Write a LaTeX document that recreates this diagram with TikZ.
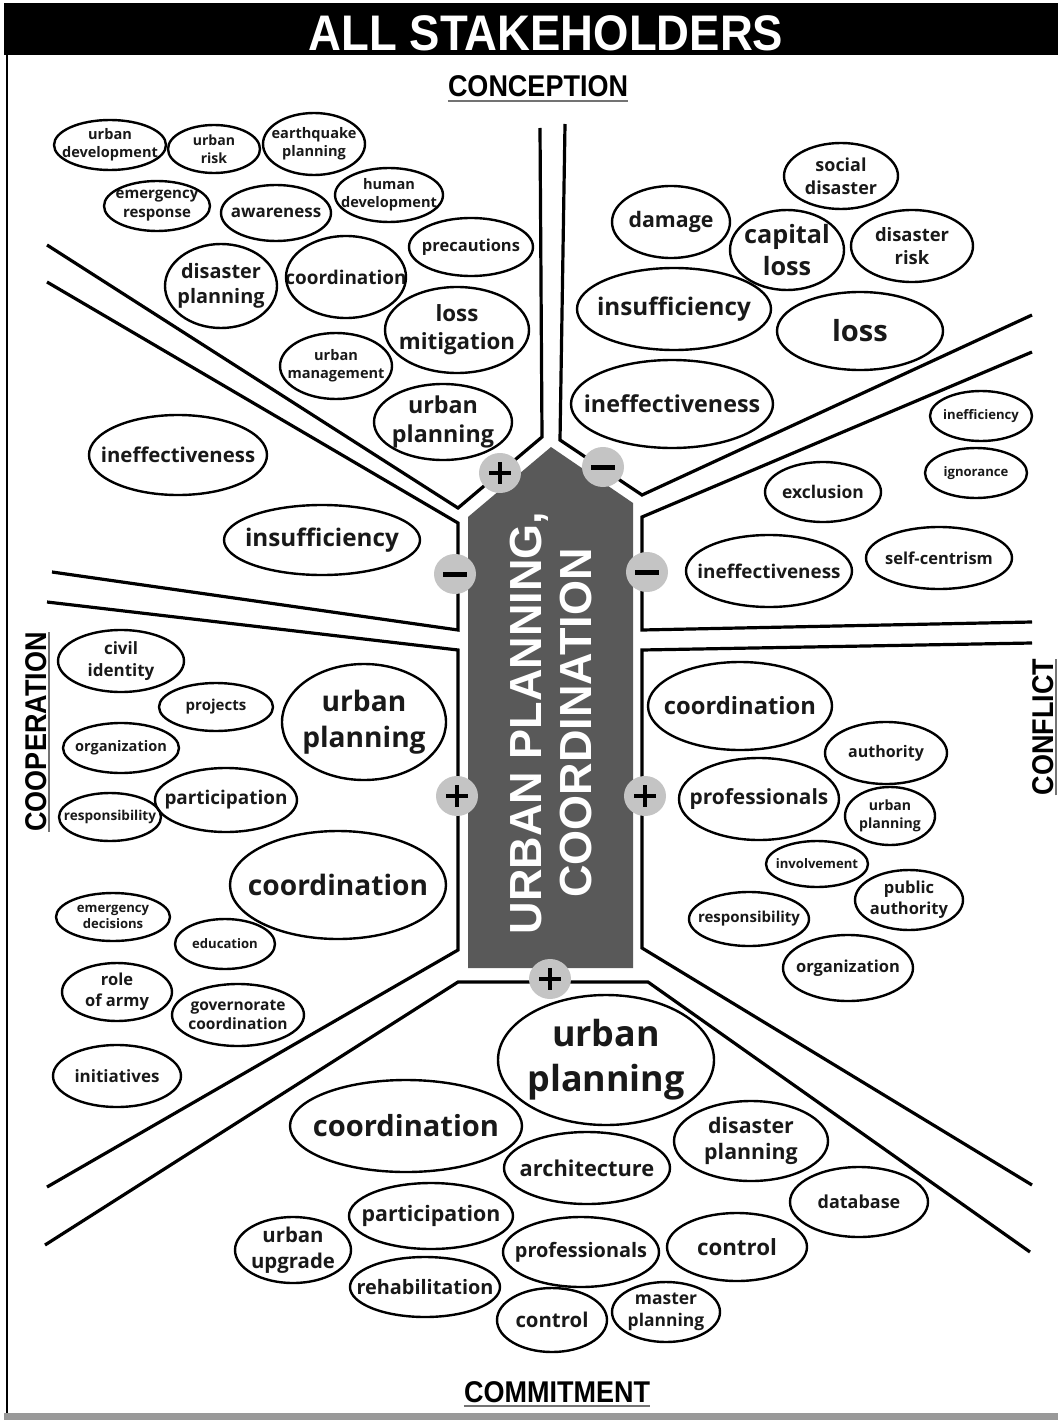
\documentclass[tikz,border=0pt]{standalone}
\usepackage{fontspec}
\setmainfont{Liberation Sans}
\IfFontExistsTF{Open Sans SemiBold}
  {\newfontfamily\bubfont{Open Sans SemiBold}}
  {\newfontfamily\bubfontbase{Open Sans}\newcommand\bubfont{\bubfontbase\bfseries}}
\usetikzlibrary{shapes.geometric}
\definecolor{panel}{HTML}{595959}
\definecolor{signgrey}{HTML}{C4C4C4}
% font size in px with a proportional line spacing
\newcommand\bsz[1]{\fontsize{\fpeval{0.97*#1}}{\fpeval{1.22*#1}}\selectfont}
% one keyword bubble: name, x, y, width, height, font size, text
\newcommand\bub[7]{%
  \node[bubtext, font=\bubfont\bsz{#6}] (#1) at (#2,#3) {#7};
  \draw[bubline] (#1.center) ellipse [x radius=#4/2, y radius=#5/2];}
\begin{document}
\begin{tikzpicture}[x=1pt,y=-1pt,
  sep/.style={line width=3.2pt, line join=miter},
  bubtext/.style={inner sep=0pt, align=center, text=black!90},
  bubline/.style={draw=black, line width=2.4pt},
  sign/.style={ellipse, fill=signgrey, minimum width=42pt, minimum height=40pt, inner sep=0pt},
  glyph/.style={line width=4pt, draw=black},
  head/.style={font=\bfseries\fontsize{30}{34}\selectfont, anchor=base, inner sep=0pt},
  uline/.style={line width=2pt, draw=black!55},
]
\useasboundingbox (0,0) rectangle (1058,1420);
\fill[white] (0,0) rectangle (1058,1420);

% frame: title bar, left rule, bottom strip
\fill[black] (4,3) rectangle (1058,55);
\draw[line width=2.6pt] (7,55) -- (7,1414);
\fill[black!40] (4,1413) rectangle (1058,1420);
\node[anchor=base, text=white, font=\bfseries\fontsize{50}{56}\selectfont, inner sep=0pt] (title) at (546,51) {\scalebox{0.91}[1]{ALL STAKEHOLDERS}};

% sector boundaries
\draw[sep] (540,128) -- (542,437) -- (458,508) -- (47,245);
\draw[sep] (47,282) -- (458,523) -- (458,630) -- (52,572);
\draw[sep] (47,602) -- (458,650) -- (458,950) -- (47,1187);
\draw[sep] (45,1245) -- (458,982) -- (648,982) -- (1030,1252);
\draw[sep] (1032,643) -- (642,650) -- (642,948) -- (1032,1185);
\draw[sep] (1032,352) -- (642,517) -- (642,630) -- (1032,622);
\draw[sep] (565,124) -- (560,440) -- (642,495) -- (1032,315);

% central arrow
\fill[panel] (468,968) -- (468,517) -- (551,447) -- (633,503) -- (633,968) -- cycle;
\node[rotate=90, text=white, align=center, font=\bfseries\fontsize{45}{50}\selectfont] (core) at (551,723) {URBAN PLANNING,\\COORDINATION};

% polarity markers
\node[sign] (s1) at (500,473) {};
\node[sign] (s2) at (603,467) {};
\node[sign] (s3) at (455,574) {};
\node[sign] (s4) at (647,572) {};
\node[sign] (s5) at (457,796) {};
\node[sign] (s6) at (645,796) {};
\node[sign] (s7) at (550,979) {};
\draw[glyph] (s1.center) ++(-11,0) -- ++(22,0) (s1.center) ++(0,-11) -- ++(0,22);
\draw[glyph] (s5.center) ++(-11,0) -- ++(22,0) (s5.center) ++(0,-11) -- ++(0,22);
\draw[glyph] (s6.center) ++(-11,0) -- ++(22,0) (s6.center) ++(0,-11) -- ++(0,22);
\draw[glyph] (s7.center) ++(-11,0) -- ++(22,0) (s7.center) ++(0,-11) -- ++(0,22);
\draw[glyph, line width=5pt] (s2.center) ++(-12,0) -- ++(24,0);
\draw[glyph, line width=5pt] (s3.center) ++(-12,0) -- ++(24,0);
\draw[glyph, line width=5pt] (s4.center) ++(-12,0) -- ++(24,0);

% headings
\node[head] (conc) at (538,97) {\scalebox{0.9}[1]{CONCEPTION}};
\draw[uline] ([yshift=-4pt]conc.base west) -- ([yshift=-4pt]conc.base east);
\node[head] (comm) at (557,1402) {\scalebox{0.9}[1]{COMMITMENT}};
\draw[uline] ([yshift=-4pt]comm.base west) -- ([yshift=-4pt]comm.base east);
\node[head, rotate=90] (coop) at (46,732) {\scalebox{0.9}[1]{COOPERATION}};
\draw[uline] ([xshift=3pt]coop.base west) -- ([xshift=3pt]coop.base east);
\node[head, rotate=90] (confl) at (1053,727) {\scalebox{0.9}[1]{CONFLICT}};
\draw[uline] ([xshift=3pt]confl.base west) -- ([xshift=3pt]confl.base east);

% conception, positive side
\bub{ul1}{110}{145}{112}{50}{15}{urban\\development}
\bub{ul2}{214}{149}{92}{48}{14.5}{urban\\risk}
\bub{ul3}{314}{144}{102}{62}{15}{earthquake\\planning}
\bub{ul4}{157}{206}{106}{50}{15.5}{emergency\\response}
\bub{ul5}{276}{213}{110}{56}{17.5}{awareness}
\bub{ul6}{389}{195}{108}{54}{15}{human\\development}
\bub{ul7}{471}{247}{124}{58}{17}{precautions}
\bub{ul8}{221}{286}{112}{84}{20.5}{disaster\\planning}
\bub{ul9}{346}{277}{120}{82}{19.5}{coordination}
\bub{ul10}{457}{330}{144}{86}{23}{loss\\mitigation}
\bub{ul11}{336}{366}{112}{66}{15}{urban\\management}
\bub{ul12}{443}{422}{138}{76}{24}{urban\\planning}

% conception, negative side
\bub{ur1}{841}{176}{114}{66}{18.5}{social\\disaster}
\bub{ur2}{671}{222}{118}{72}{22}{damage}
\bub{ur3}{787}{250}{114}{80}{26}{capital\\loss}
\bub{ur4}{912}{246}{122}{72}{19}{disaster\\risk}
\bub{ur5}{674}{309}{194}{82}{25}{insufficiency}
\bub{ur6}{860}{331}{166}{78}{30}{loss}
\bub{ur7}{672}{404}{202}{88}{24}{ineffectiveness}

% cooperation, negative side
\bub{lu1}{178}{455}{178}{80}{21}{ineffectiveness}
\bub{lu2}{322}{540}{196}{70}{25}{insufficiency}

% conflict, negative side
\bub{ru1}{981}{416}{102}{50}{13.5}{inefficiency}
\bub{ru2}{976}{473}{102}{50}{13.5}{ignorance}
\bub{ru3}{823}{492}{116}{60}{18}{exclusion}
\bub{ru4}{769}{571}{166}{72}{19.5}{ineffectiveness}
\bub{ru5}{939}{558}{146}{62}{17}{self-centrism}

% cooperation, positive side
\bub{ll1}{121}{661}{126}{62}{17.5}{civil\\identity}
\bub{ll2}{216}{707}{114}{48}{15.5}{projects}
\bub{ll3}{121}{748}{116}{50}{15}{organization}
\bub{ll4}{364}{722}{164}{116}{29}{urban\\planning}
\bub{ll5}{110}{817}{102}{48}{14}{responsibility}
\bub{ll6}{226}{800}{142}{64}{19.5}{participation}
\bub{ll7}{338}{885}{216}{108}{29}{coordination}
\bub{ll8}{113}{917}{114}{48}{13.5}{emergency\\decisions}
\bub{ll9}{225}{944}{100}{50}{13.5}{education}
\bub{ll10}{117}{992}{110}{58}{17}{role\\of army}
\bub{ll11}{238}{1015}{132}{62}{16}{governorate\\coordination}
\bub{ll12}{117}{1076}{128}{62}{17.5}{initiatives}

% conflict, positive side
\bub{rl1}{740}{706}{184}{88}{24.5}{coordination}
\bub{rl2}{886}{753}{122}{62}{16.5}{authority}
\bub{rl3}{759}{799}{160}{82}{21.5}{professionals}
\bub{rl4}{890}{816}{90}{58}{14.5}{urban\\planning}
\bub{rl5}{817}{864}{102}{46}{13.5}{involvement}
\bub{rl6}{909}{900}{108}{60}{17}{public\\authority}
\bub{rl7}{749}{919}{120}{54}{15.5}{responsibility}
\bub{rl8}{848}{968}{130}{66}{17}{organization}

% commitment
\bub{bt1}{606}{1060}{216}{130}{37}{urban\\planning}
\bub{bt2}{406}{1126}{232}{92}{30}{coordination}
\bub{bt3}{587}{1168}{166}{72}{22.5}{architecture}
\bub{bt4}{751}{1141}{154}{80}{22}{disaster\\planning}
\bub{bt5}{859}{1202}{138}{70}{18.5}{database}
\bub{bt6}{431}{1216}{164}{66}{22}{participation}
\bub{bt7}{293}{1250}{116}{66}{21}{urban\\upgrade}
\bub{bt8}{581}{1252}{156}{70}{20.5}{professionals}
\bub{bt9}{737}{1247}{140}{68}{23}{control}
\bub{bt10}{425}{1287}{150}{60}{20.5}{rehabilitation}
\bub{bt11}{552}{1320}{110}{64}{21}{control}
\bub{bt12}{666}{1312}{108}{60}{18}{master\\planning}
\end{tikzpicture}
\end{document}
